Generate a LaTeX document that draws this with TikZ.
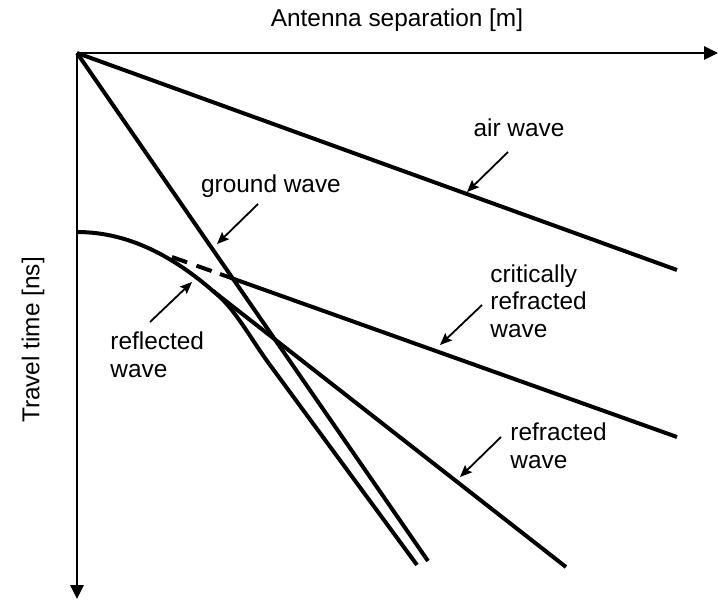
\documentclass[tikz,border=0pt]{standalone}
\usepackage{fontspec}
\setmainfont{Liberation Sans}
\usetikzlibrary{arrows.meta}

\begin{document}
\begin{tikzpicture}[
    x=0.5pt, y=-0.5pt,
    every node/.style={font=\fontsize{12.2}{13.8}\selectfont, align=left, inner sep=0pt},
    wave/.style={line width=2pt},
    axis/.style={line width=1.4pt, -{Triangle[length=7pt, width=6.5pt]}},
    arr/.style={line width=0.9pt, -{Stealth[length=6pt, width=5pt, inset=1pt]}}
]
\useasboundingbox (0,0) rectangle (718,600);

% axes
\coordinate (origin) at (77,53);
\coordinate (xend) at (718,53);
\coordinate (yend) at (77,599);
\draw[axis] (origin) -- (xend);
\draw[axis] (origin) -- (yend);
\node (xlabel) at (397,20) {Antenna separation [m]};
\node[rotate=90] (ylabel) at (33,340) {Travel time [ns]};

% travel time curves
\coordinate (air end) at (677,270);
\coordinate (ground end) at (428,561);
\coordinate (refl start) at (77,232);
\coordinate (refl kink) at (213,291);
\coordinate (refl bend) at (270,365);
\coordinate (refl end) at (417,565);
\coordinate (crit start) at (172,257);
\coordinate (crit mid) at (220,274);
\coordinate (crit end) at (677,437);
\coordinate (refr end) at (566,567);

\draw[wave] (origin) -- (air end);
\draw[wave] (origin) -- (ground end);
\draw[wave] (refl start) .. controls (130,232) and (175,258) .. (refl kink)
    .. controls (235,308) and (250,338) .. (refl bend) -- (refl end);
\draw[wave] (refl kink) -- (refr end);
\draw[wave, dash pattern=on 8pt off 5pt] (crit start) -- (crit mid);
\draw[wave] (crit mid) -- (crit end);

% labels
\node (air lbl) at (519,128) {air wave};
\node (ground lbl) at (271,186) {ground wave};
\node[anchor=west] (crit lbl) at (490,301) {critically\\refracted\\wave};
\node[anchor=west] (refl lbl) at (110,355) {reflected\\wave};
\node[anchor=west] (refr lbl) at (510,446) {refracted\\wave};

% pointers
\coordinate (air from) at (508,152);
\coordinate (air to) at (467,192);
\coordinate (ground from) at (258,204);
\coordinate (ground to) at (217,244);
\coordinate (crit from) at (482,305);
\coordinate (crit to) at (440,345);
\coordinate (refl from) at (150,322);
\coordinate (refl to) at (192,282);
\coordinate (refr from) at (501,437);
\coordinate (refr to) at (460,477);

\draw[arr] (air from) -- (air to);
\draw[arr] (ground from) -- (ground to);
\draw[arr] (crit from) -- (crit to);
\draw[arr] (refl from) -- (refl to);
\draw[arr] (refr from) -- (refr to);

\end{tikzpicture}
\end{document}
